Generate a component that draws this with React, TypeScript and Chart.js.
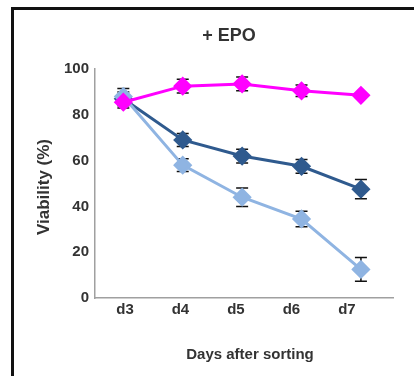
import React, { useEffect, useRef } from "react";
import { Chart, registerables } from "chart.js";

Chart.register(...registerables);

const categories = ["d3", "d4", "d5", "d6", "d7"];
const darkValues = [87, 69, 62, 57.5, 47.5];
const darkErrors = [3, 2.8, 3, 3, 4.2];
const lightValues = [88, 58, 44, 34.5, 12.5];
const lightErrors = [3.5, 2.8, 4, 3.4, 5.2];
const pinkValues = [85.5, 92.5, 93.5, 90.5, 88.5];
const pinkErrors = [2.5, 3, 3, 2.5, 1];
const yTicks = [0, 20, 40, 60, 80, 100];

const TEXT = "#333333";
const FONT = "'Liberation Sans', Arial, sans-serif";

const errorBarPlugin = {
  id: "errorBars",
  beforeDatasetsDraw(chart: any) {
    const ctx = chart.ctx;
    const yScale = chart.scales.y;
    chart.data.datasets.forEach((ds: any, di: number) => {
      const meta = chart.getDatasetMeta(di);
      const errs: number[] = ds.errors || [];
      meta.data.forEach((pt: any, i: number) => {
        const v = ds.data[i].y;
        const e = errs[i] || 0;
        const x = pt.x;
        const yTop = yScale.getPixelForValue(v + e);
        const yBot = yScale.getPixelForValue(v - e);
        ctx.save();
        ctx.strokeStyle = "#111";
        ctx.lineWidth = 1.5;
        ctx.beginPath();
        ctx.moveTo(x, yTop);
        ctx.lineTo(x, yBot);
        ctx.moveTo(x - 6, yTop);
        ctx.lineTo(x + 6, yTop);
        ctx.moveTo(x - 6, yBot);
        ctx.lineTo(x + 6, yBot);
        ctx.stroke();
        ctx.restore();
      });
    });
  },
};

const titlesPlugin = {
  id: "titlesText",
  afterDraw(chart: any) {
    const ctx = chart.ctx;
    ctx.save();
    ctx.fillStyle = TEXT;
    ctx.textAlign = "center";
    ctx.textBaseline = "middle";
    ctx.font = `bold 18px ${FONT}`;
    ctx.fillText("+ EPO", 229, 36);
    ctx.font = `bold 15px ${FONT}`;
    ctx.fillText("Days after sorting", 250, 355);
    ctx.translate(44, 187);
    ctx.rotate(-Math.PI / 2);
    ctx.font = `bold 17px ${FONT}`;
    ctx.fillText("Viability (%)", 0, 0);
    ctx.restore();
  },
};

function toPoints(vals: number[]) {
  return vals.map((v, i) => ({ x: i, y: v }));
}

export default function App() {
  const ref = useRef<HTMLCanvasElement | null>(null);
  useEffect(() => {
    if (!ref.current) return;
    const chart = new Chart(ref.current, {
      type: "line",
      data: {
        datasets: [
          {
            label: "pink",
            data: toPoints(pinkValues),
            errors: pinkErrors,
            borderColor: "#ff00ff",
            backgroundColor: "#ff00ff",
            borderWidth: 3,
            pointStyle: "rectRot",
            pointRadius: 7.5,
            order: 0,
          } as any,
          {
            label: "light",
            data: toPoints(lightValues),
            errors: lightErrors,
            borderColor: "#8fb4e2",
            backgroundColor: "#8fb4e2",
            borderWidth: 3,
            pointStyle: "rectRot",
            pointRadius: 7.5,
            order: 1,
          } as any,
          {
            label: "dark",
            data: toPoints(darkValues),
            errors: darkErrors,
            borderColor: "#2f5a8e",
            backgroundColor: "#2f5a8e",
            borderWidth: 3,
            pointStyle: "rectRot",
            pointRadius: 7.5,
            order: 2,
          } as any,
        ],
      },
      options: {
        animation: false,
        responsive: false,
        layout: { padding: { left: 0, top: 69, right: 21, bottom: 0 } },
        plugins: {
          legend: { display: false },
          tooltip: { enabled: false },
          title: { display: false },
        },
        scales: {
          x: {
            type: "linear",
            display: false,
            min: -0.477,
            max: 4.54,
          },
          xl: {
            type: "linear",
            position: "bottom",
            min: -0.54,
            max: 4.83,
            grid: { display: false, drawTicks: false },
            border: { display: true, color: "#a0a0a0", width: 1.5 },
            afterBuildTicks: (s: any) => {
              s.ticks = categories.map((_, i) => ({ value: i }));
            },
            afterFit: (s: any) => {
              s.height = 78;
            },
            ticks: {
              padding: 3,
              color: TEXT,
              font: { family: FONT, size: 15, weight: "bold" },
              callback: (v: any) => categories[v] ?? "",
              maxRotation: 0,
              autoSkip: false,
            },
          },
          y: {
            type: "linear",
            min: 0,
            max: 100,
            grid: { display: false, drawTicks: false },
            border: { display: true, color: "#a0a0a0", width: 1.5 },
            afterBuildTicks: (s: any) => {
              s.ticks = yTicks.map((v) => ({ value: v }));
            },
            afterFit: (s: any) => {
              s.width = 95;
            },
            ticks: {
              padding: 6,
              color: TEXT,
              font: { family: FONT, size: 15, weight: "bold" },
            },
          },
        } as any,
      },
      plugins: [errorBarPlugin, titlesPlugin],
    } as any);
    return () => chart.destroy();
  }, []);

  return (
    <div style={{ position: "absolute", left: 0, top: 0, width: 414, height: 376, background: "#fff", overflow: "hidden" }}>
      <canvas ref={ref} width={414} height={376} style={{ position: "absolute", left: 0, top: 0, width: 414, height: 376 }} />
      <div
        style={{
          position: "absolute",
          left: 11,
          top: 7,
          width: 440,
          height: 420,
          border: "3px solid #111",
          boxSizing: "border-box",
          pointerEvents: "none",
        }}
      />
    </div>
  );
}
